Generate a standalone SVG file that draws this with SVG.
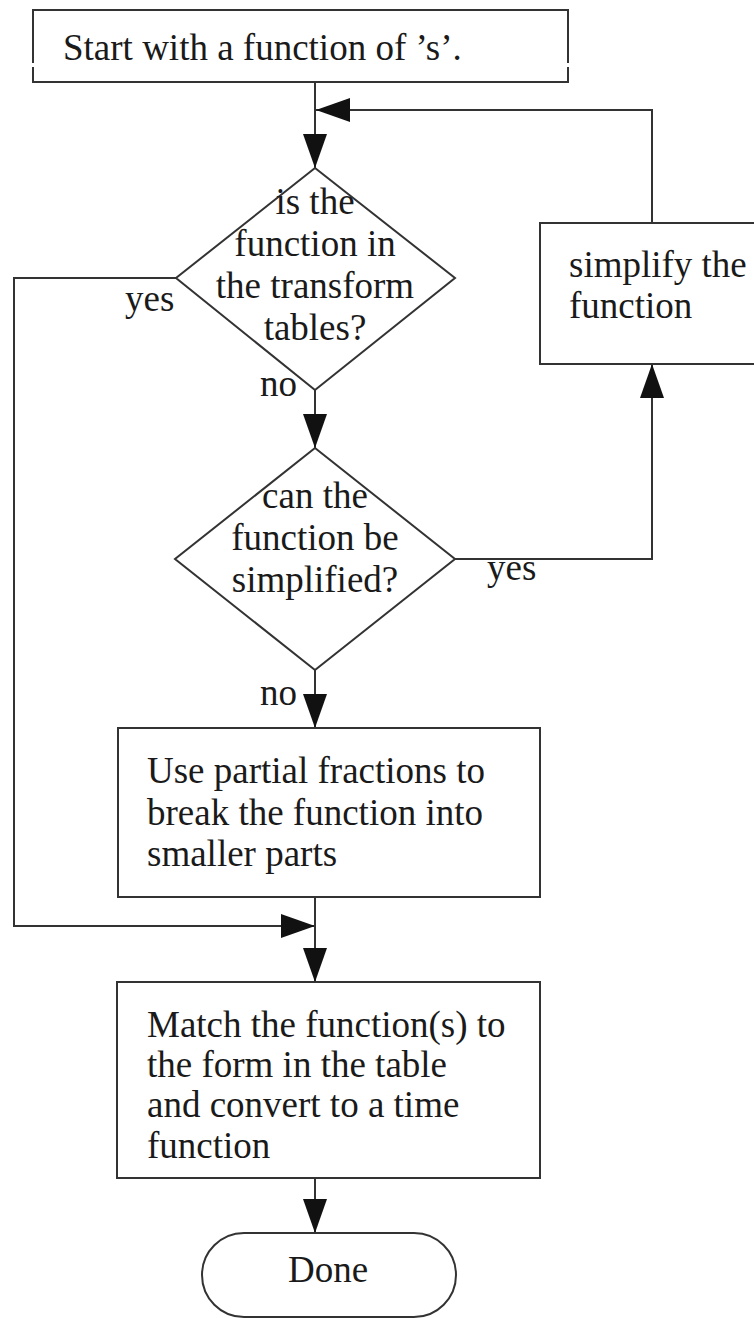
<svg xmlns="http://www.w3.org/2000/svg" width="754" height="1318" viewBox="0 0 754 1318">
<defs>
<style>
.box{fill:#fff;stroke:#333;stroke-width:2}
.ln{fill:none;stroke:#333;stroke-width:2}
.t{font-family:"Liberation Serif","Times New Roman",serif;font-size:37px;fill:#1a1a1a}
.c{text-anchor:middle}
</style>
<marker id="ah" markerUnits="userSpaceOnUse" markerWidth="34" markerHeight="24" refX="34" refY="12" orient="auto">
<path d="M0,0 L34,12 L0,24 Z" fill="#111"/>
</marker>
</defs>
<rect width="754" height="1318" fill="#fff"/>
<g id="connectors">
<path class="ln" d="M315,82 V168" marker-end="url(#ah)"/>
<path class="ln" d="M652,223 V110 H316" marker-end="url(#ah)"/>
<path class="ln" d="M315,390 V448" marker-end="url(#ah)"/>
<path class="ln" d="M176,278 H14 V926 H315" marker-end="url(#ah)"/>
<path class="ln" d="M455,559 H652 V364" marker-end="url(#ah)"/>
<path class="ln" d="M315,670 V728" marker-end="url(#ah)"/>
<path class="ln" d="M315,897 V982" marker-end="url(#ah)"/>
<path class="ln" d="M315,1178 V1233" marker-end="url(#ah)"/>
<text class="t" x="125" y="311">yes</text>
<text class="t" x="260" y="396">no</text>
<text class="t" x="487" y="580">yes</text>
<text class="t" x="260" y="705">no</text>
</g>
<g id="start">
<rect x="33" y="10" width="535" height="72" fill="#fff"/>
<path class="ln" d="M33,63 V10 H568 V63 M568,67 V82 H33 V67"/>
<text class="t" x="63" y="60">Start with a function of ’s’.</text>
</g>
<g id="decision1">
<polygon class="box" points="315,168 455,278 315,390 176,278"/>
<text class="t c" x="315" y="214">is the</text>
<text class="t c" x="315" y="256">function in</text>
<text class="t c" x="315" y="298">the transform</text>
<text class="t c" x="315" y="340">tables?</text>
</g>
<g id="simplify">
<rect class="box" x="540" y="223" width="240" height="141"/>
<text class="t" x="569" y="277">simplify the</text>
<text class="t" x="569" y="318">function</text>
</g>
<g id="decision2">
<polygon class="box" points="315,448 455,559 315,670 175,559"/>
<text class="t c" x="315" y="508">can the</text>
<text class="t c" x="315" y="550">function be</text>
<text class="t c" x="315" y="592">simplified?</text>
</g>
<g id="partial">
<rect class="box" x="118" y="728" width="422" height="169"/>
<text class="t" x="147" y="783">Use partial fractions to</text>
<text class="t" x="147" y="825">break the function into</text>
<text class="t" x="147" y="866">smaller parts</text>
</g>
<g id="match">
<rect class="box" x="117" y="982" width="423" height="196"/>
<text class="t" x="147" y="1037">Match the function(s) to</text>
<text class="t" x="147" y="1077">the form in the table</text>
<text class="t" x="147" y="1117">and convert to a time</text>
<text class="t" x="147" y="1158">function</text>
</g>
<g id="done">
<rect class="box" x="202" y="1233" width="254" height="84" rx="42" ry="42"/>
<text class="t c" x="328" y="1282">Done</text>
</g>
</svg>
